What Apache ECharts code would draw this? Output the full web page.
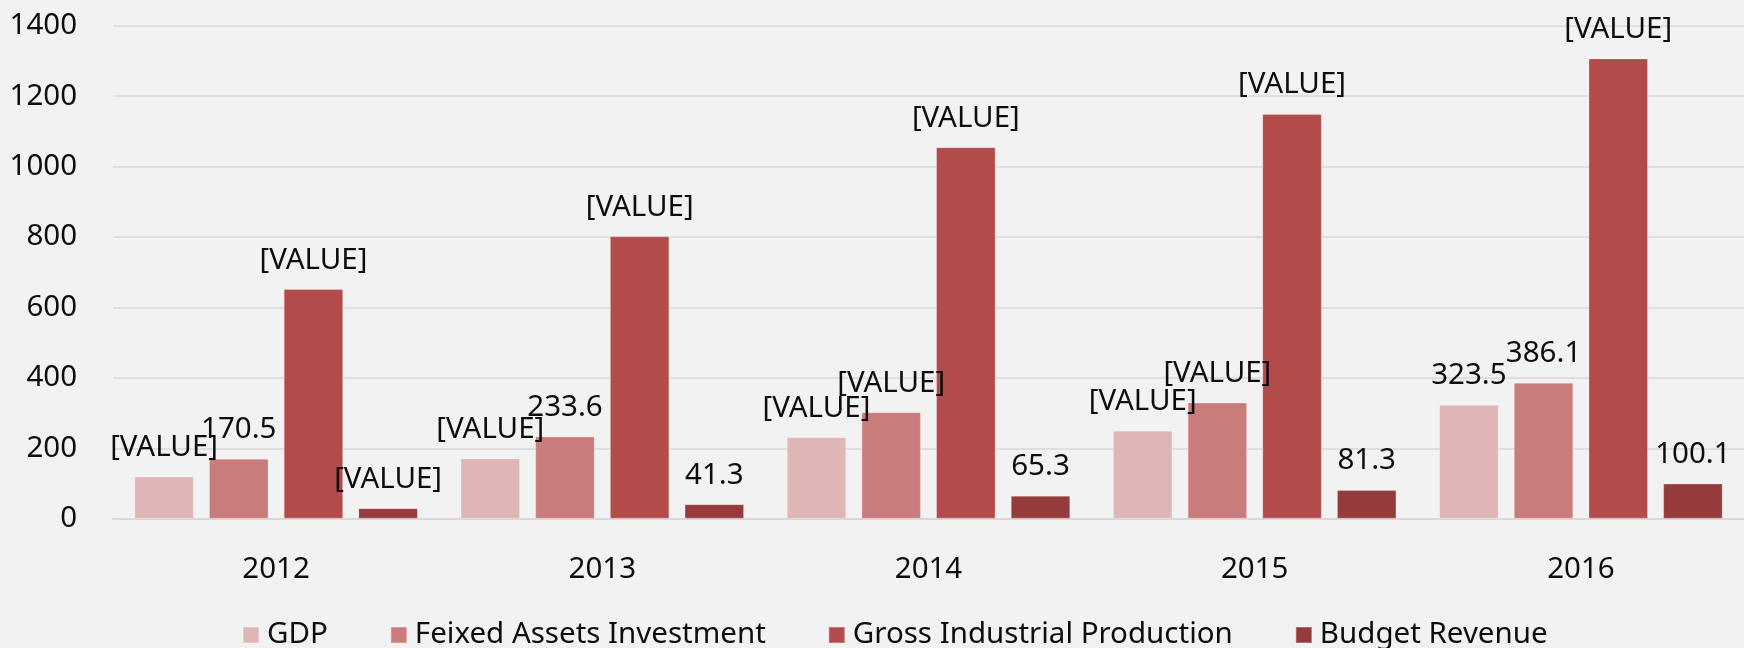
<!DOCTYPE html>
<html>
<head>
<meta charset="utf-8">
<script src="https://cdn.jsdelivr.net/npm/echarts@6/dist/echarts.min.js"></script>
<style>
  html, body { margin: 0; padding: 0; background: #F2F2F2; }
  #chart { width: 1744px; height: 648px; }
</style>
</head>
<body>
<div id="chart"></div>
<script>
const categories = ['2012', '2013', '2014', '2015', '2016'];
const seriesNames = ['GDP', 'Feixed Assets Investment', 'Gross Industrial Production', 'Budget Revenue'];

const gdpValues = [120, 171, 231, 250, 323.5];
const faiValues = [170.5, 233.6, 302, 330, 386.1];
const gipValues = [652, 802, 1055, 1149, 1307];
const brValues  = [30, 41.3, 65.3, 81.3, 100.1];

const gdpLabels = ['[VALUE]', '[VALUE]', '[VALUE]', '[VALUE]', '323.5'];
const faiLabels = ['170.5', '233.6', '[VALUE]', '[VALUE]', '386.1'];
const gipLabels = ['[VALUE]', '[VALUE]', '[VALUE]', '[VALUE]', '[VALUE]'];
const brLabels  = ['[VALUE]', '41.3', '65.3', '81.3', '100.1'];

const yTicks = { min: 0, max: 1400, interval: 200 };

const colors = ['#DFB5B5', '#C97C7B', '#B24B49', '#953B3B'];
const FONT = '"Noto Sans", "Open Sans", sans-serif';
const FS = 29.5;

function makeSeries(name, values, labels, color) {
  return {
    name: name,
    type: 'bar',
    data: values,
    barWidth: 59.5,
    barGap: '25.5%',
    itemStyle: { color: color, borderColor: 'rgba(255,255,255,0.25)', borderWidth: 1 },
    label: {
      show: true,
      position: 'top',
      distance: 14,
      color: '#0D0D0D',
      fontFamily: FONT,
      fontSize: FS,
      formatter: function (p) { return labels[p.dataIndex]; }
    },
    emphasis: { disabled: true },
    animation: false
  };
}

const chart = echarts.init(document.getElementById('chart'), null, { renderer: 'canvas' });
chart.setOption({
  backgroundColor: '#F2F2F2',
  animation: false,
  color: colors,
  grid: { left: 113, right: -14, top: 25.7, bottom: 129.3, containLabel: false },
  legend: {
    left: 237,
    top: 615,
    itemWidth: 16,
    itemHeight: 16,
    itemGap: 62,
    icon: 'rect',
    textStyle: { fontFamily: FONT, fontSize: FS, color: '#0D0D0D', padding: [0, 0, 0, 3] },
    data: seriesNames
  },
  xAxis: {
    type: 'category',
    data: categories,
    axisLine: { show: true, lineStyle: { color: '#D9D9D9', width: 2 } },
    axisTick: { show: false },
    axisLabel: { fontFamily: FONT, fontSize: FS, color: '#0D0D0D', margin: 36 }
  },
  yAxis: {
    type: 'value',
    min: yTicks.min,
    max: yTicks.max,
    interval: yTicks.interval,
    axisLine: { show: false },
    axisTick: { show: false },
    splitLine: { lineStyle: { color: '#D9D9D9', width: 1.5 } },
    axisLabel: {
      fontFamily: FONT, fontSize: FS, color: '#0D0D0D', margin: 36,
      formatter: function (v) { return String(v); }
    }
  },
  series: [
    makeSeries(seriesNames[0], gdpValues, gdpLabels, colors[0]),
    makeSeries(seriesNames[1], faiValues, faiLabels, colors[1]),
    makeSeries(seriesNames[2], gipValues, gipLabels, colors[2]),
    makeSeries(seriesNames[3], brValues, brLabels, colors[3])
  ]
});
</script>
</body>
</html>
